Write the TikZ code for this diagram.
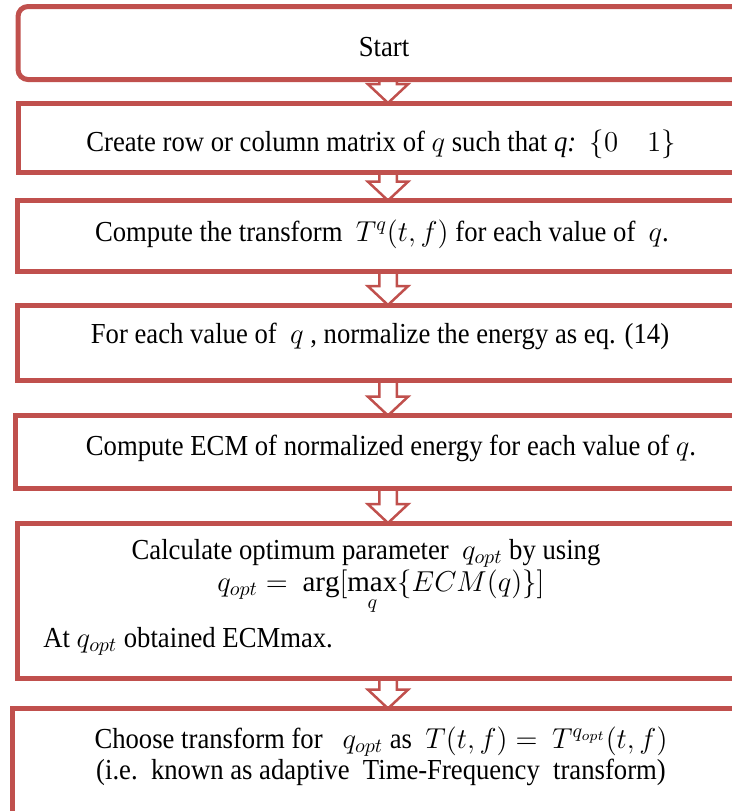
\documentclass[tikz,border=0pt]{standalone}
\usepackage{amsmath,amssymb}
\usepackage{fontspec}
\setmainfont{Liberation Serif}
\newfontfamily\flowfont[FakeStretch=0.92]{Liberation Serif}
\usetikzlibrary{calc,positioning}
\definecolor{flowred}{HTML}{C0504D}

\begin{document}
\begin{tikzpicture}[x=0.5pt, y=-0.5pt,
  every node/.style={font=\flowfont\fontsize{14.5}{17}\selectfont},
  stepbox/.style={draw=flowred, line width=2.5pt, inner sep=0pt, outer sep=0pt, anchor=north west},
  txt/.style={anchor=base, inner sep=0pt},
  flowarr/.style={draw=flowred, line width=1.25pt, line join=miter}]

\useasboundingbox (0,0) rectangle (732,811);
\clip (0,0) rectangle (732,811);

% Kaesten des Ablaufs
\node[stepbox, rounded corners=5pt, minimum width=370pt, minimum height=36.5pt] (b1) at (18,6.5) {};
\node[stepbox, minimum width=370pt, minimum height=34.75pt] (b2) at (18,103) {};
\node[stepbox, minimum width=370.5pt, minimum height=35.5pt] (b3) at (17.5,200.5) {};
\node[stepbox, minimum width=371pt, minimum height=37.75pt] (b4) at (17,305) {};
\node[stepbox, minimum width=372.5pt, minimum height=36.25pt] (b5) at (15.5,415.5) {};
\node[stepbox, minimum width=370.5pt, minimum height=77.75pt] (b6) at (17.5,523) {};
\node[stepbox, minimum width=375.5pt, minimum height=75pt] (b7) at (12.5,708.5) {};

% Texte
\node[txt] (t1) at (384,56) {Start};
\node[txt] (t2) at (381,151) {Create row or column matrix of $q$ such that \textit{q:}\ \ $\{0\quad 1\}$};
\node[txt] (t3) at (382,241) {Compute the transform \ $T^{q}(t,f)$ for each value of \ $q$.};
\node[txt] (t4) at (380,343) {For each value of \ $q$ , normalize the energy as eq. (14)};
\node[txt] (t5) at (391,455) {Compute ECM of normalized energy for each value of $q$.};
\node[txt] (t6) at (366,559) {Calculate optimum parameter \ $q_{opt}$ by using};
\node[txt] (t6eq) at (381,591) {$q_{opt} =\ \arg[\max\limits_{q}\{ECM(q)\}]$};
\node[txt, anchor=base west] (t6at) at (43,647) {At $q_{opt}$ obtained ECMmax.};
\node[txt] (t7) at (381,748) {Choose transform for \ \ $q_{opt}$ as \ $T(t,f) =\ T^{q_{opt}}(t,f)$};
\node[txt] (t7b) at (381,779) {(i.e.\ \ known as adaptive\ \ Time-Frequency\ \ transform)};

% Blockpfeile
\foreach \a/\b in {b1/b2,b2/b3,b3/b4,b4/b5,b5/b6,b6/b7}
  \draw[flowarr] ($(\a.south)+(-8.75,0)$) -- ($(\b.north)+(-8.75,-19)$) -- ($(\b.north)+(-20.25,-19)$)
    -- (\b.north) -- ($(\b.north)+(20.25,-19)$) -- ($(\b.north)+(8.75,-19)$) -- ($(\a.south)+(8.75,0)$);

\end{tikzpicture}
\end{document}
